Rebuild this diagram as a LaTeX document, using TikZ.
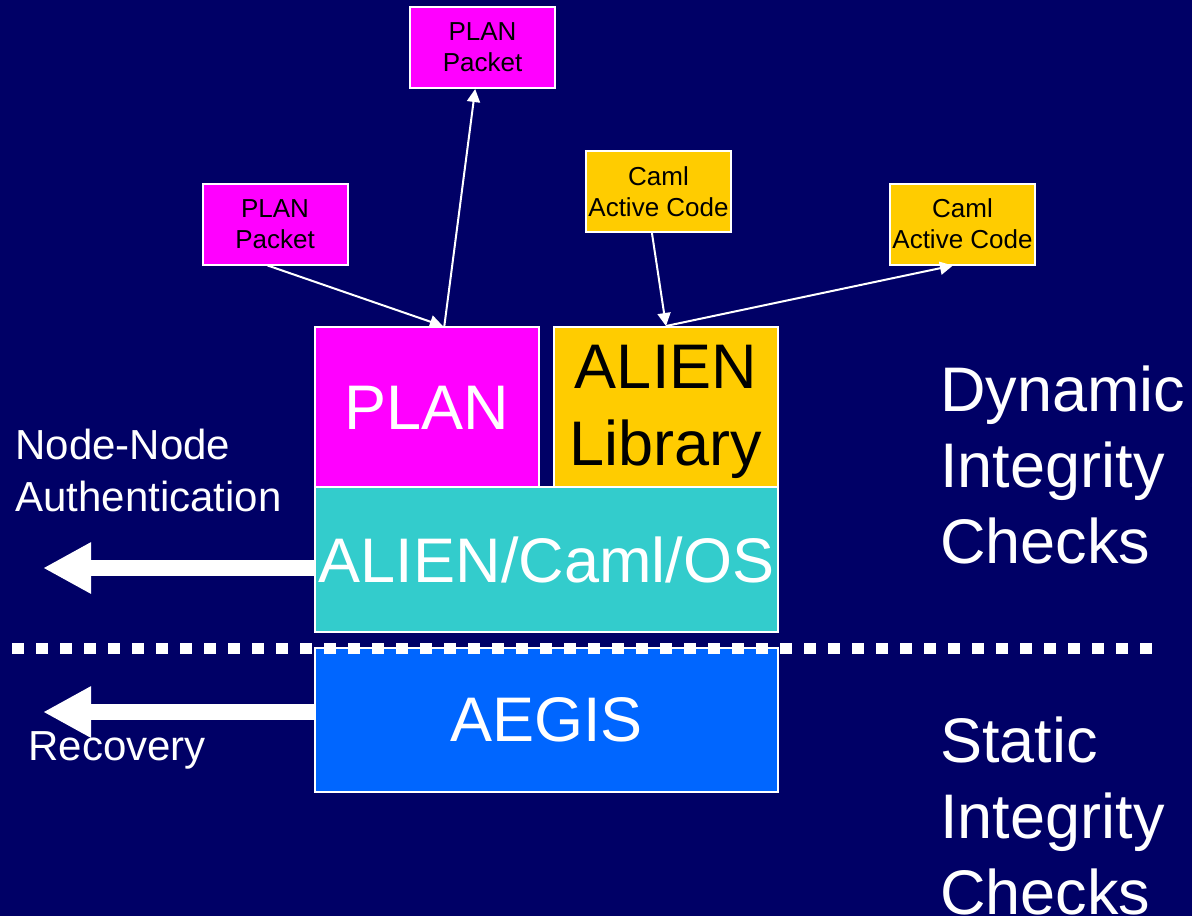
\documentclass[tikz,border=0pt]{standalone}
\usepackage{fontspec}
\setmainfont{Liberation Sans}
\usetikzlibrary{arrows.meta}
\definecolor{navy}{RGB}{0,0,102}
\definecolor{plancol}{RGB}{255,0,255}
\definecolor{camlcol}{RGB}{255,204,0}
\definecolor{oscol}{RGB}{51,204,204}
\definecolor{aegiscol}{RGB}{0,102,255}

\begin{document}
\begin{tikzpicture}[x=0.5pt,y=-0.5pt,>={Triangle[length=6.5pt,width=6.5pt]}]
  \tikzstyle{block}=[draw=white,line width=1pt,inner sep=0pt,align=center]
  \tikzstyle{packet}=[block,fill=plancol,minimum width=72.5pt,minimum height=40.5pt,font=\fontsize{13}{15.5}\selectfont]
  \tikzstyle{camlcode}=[block,fill=camlcol,minimum width=72.5pt,minimum height=40.5pt,font=\fontsize{13}{15.5}\selectfont]
  \tikzstyle{layer}=[block,font=\fontsize{31.5}{38.5}\selectfont]
  \tikzstyle{link}=[white,line width=1pt,->]
  \tikzstyle{fatarrow}=[white,line width=8pt,-{Triangle[length=24pt,width=24pt]}]
  \tikzstyle{sidetext}=[white,inner sep=0pt,align=left,anchor=north west]
  \useasboundingbox (0,0) rectangle (1192,916);
  \fill[navy] (0,0) rectangle (1192,916);

  \node[packet] (pkt_top) at (482.5,47.5) {PLAN\\Packet};
  \node[packet] (pkt_left) at (275,224) {PLAN\\Packet};
  \node[camlcode] (caml_1) at (658.5,191.5) {Caml\\Active Code};
  \node[camlcode] (caml_2) at (962.5,224) {Caml\\Active Code};

  \node[layer,fill=plancol,text=white,minimum width=112pt,minimum height=80.5pt] (plan) at (427,407.5) {PLAN};
  \node[layer,fill=camlcol,minimum width=112pt,minimum height=80.5pt,text depth=2.5pt] (alien_lib) at (666,407.5) {ALIEN\\Library};
  \node[layer,fill=oscol,text=white,minimum width=231.5pt,minimum height=72.5pt] (os) at (546.5,559.5) {ALIEN/Caml/OS};
  \node[layer,fill=aegiscol,text=white,minimum width=231.5pt,minimum height=72pt] (aegis) at (546.5,720) {AEGIS};

  \coordinate (nn_tip) at (43,568);
  \coordinate (rec_tip) at (43,712);
  \draw[fatarrow] (os.west |- nn_tip) -- (nn_tip);
  \draw[fatarrow] (aegis.west |- rec_tip) -- (rec_tip);

  \draw[link] (pkt_left.260) -- (plan.79);
  \draw[link] (plan.78) -- (pkt_top.260);
  \draw[link] (caml_1.261) -- (alien_lib.north);
  \draw[link] (alien_lib.north) -- (caml_2.257);

  \coordinate (sep_l) at (12,648);
  \coordinate (sep_r) at (1152,648);
  \draw[white,line width=5.5pt,dash pattern=on 6pt off 6pt] (sep_l) -- (sep_r);

  \node[sidetext,font=\fontsize{21}{26}\selectfont] (nn_text) at (15,429) {Node-Node\\Authentication};
  \node[sidetext,font=\fontsize{21}{26}\selectfont] (rec_text) at (28,731) {Recovery};
  \node[sidetext,font=\fontsize{31.5}{38}\selectfont] (dyn_text) at (940,365) {Dynamic\\Integrity\\Checks};
  \node[sidetext,font=\fontsize{31.5}{38}\selectfont] (stat_text) at (940,716) {Static\\Integrity\\Checks};
\end{tikzpicture}
\end{document}
